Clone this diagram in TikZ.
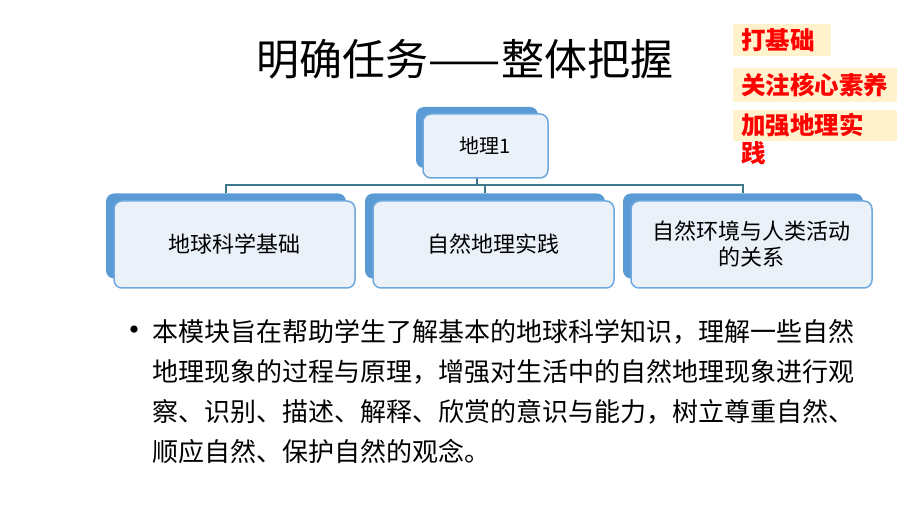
\documentclass[tikz,border=0pt]{standalone}
\usepackage{fontspec}
\setmainfont{Noto Sans CJK SC}
\usetikzlibrary{positioning}
\definecolor{shadowblue}{HTML}{5B9BD5}
\definecolor{paleblue}{HTML}{EAF1F9}
\definecolor{rimblue}{HTML}{6FA8DC}
\definecolor{linkteal}{RGB}{62,118,140}
\definecolor{tagbg}{HTML}{FFF2CC}
\tikzset{
  back/.style={fill=shadowblue, rounded corners=8, minimum width=240, minimum height=85},
  front/.style={fill=paleblue, draw=rimblue, line width=1.5, rounded corners=8,
    minimum width=241, minimum height=87, align=center, font=\fontsize{22}{26}\selectfont},
  link/.style={draw=linkteal, line width=1.5},
  tag/.style={fill=tagbg, text=red, anchor=west, inner xsep=8, inner ysep=0,
    align=left, font=\fontsize{24.5}{28}\selectfont\bfseries},
}
\begin{document}
\begin{tikzpicture}[x=1pt, y=-1pt]
  \useasboundingbox (0,0) rectangle (920,518);
  % title
  \node (title) at (465,59) {\fontsize{43}{48}\selectfont 明确任务——整体把握};
  % side notes
  \node[tag, minimum width=98, minimum height=32, text width=82] (tagA) at (733,40) {打基础};
  \node[tag, minimum width=164, minimum height=34, text width=148] (tagB) at (733,85) {关注核心素养};
  \node[tag, minimum width=164, minimum height=31, text width=148] (tagC) at (733,125.5) {加强地理实};
  \node[text=red, anchor=north west, inner sep=0, font=\fontsize{24.5}{28}\selectfont\bfseries]
    (tagCrest) at ([xshift=8]tagC.south west) {践};
  % shadows
  \node[back, minimum width=122, minimum height=61] (topback) at (477,137.5) {};
  \node[back] (backA) at (226,236) {};
  \node[back] (backB) at (485,236) {};
  \node[back] (backC) at (743,236) {};
  % connectors
  \coordinate (bar) at (0,185);
  \draw[link] (topback.south) -- (topback.south |- bar)
    (backA.north) |- (backC.north |- bar) -- (backC.north)
    (backB.north) -- (backB.north |- bar);
  % boxes
  \node[front, minimum width=125, minimum height=64, font=\fontsize{20}{24}\selectfont] (top) at (485.5,146) {地理1};
  \node[front] (boxA) at (234.5,244.5) {地球科学基础};
  \node[front] (boxB) at (493.5,244.5) {自然地理实践};
  \node[front] (boxC) at (751.5,244.5) {自然环境与人类活动\\的关系};
  % bullet text
  \node (dot) at (134,334) {\fontsize{34}{36}\selectfont •};
  \node[anchor=west, align=left, inner sep=0, font=\fontsize{26}{40}\selectfont] (desc) at (152,392)
    {本模块旨在帮助学生了解基本的地球科学知识，理解一些自然\\
     地理现象的过程与原理，增强对生活中的自然地理现象进行观\\
     察、识别、描述、解释、欣赏的意识与能力，树立尊重自然、\\
     顺应自然、保护自然的观念。};
\end{tikzpicture}
\end{document}
